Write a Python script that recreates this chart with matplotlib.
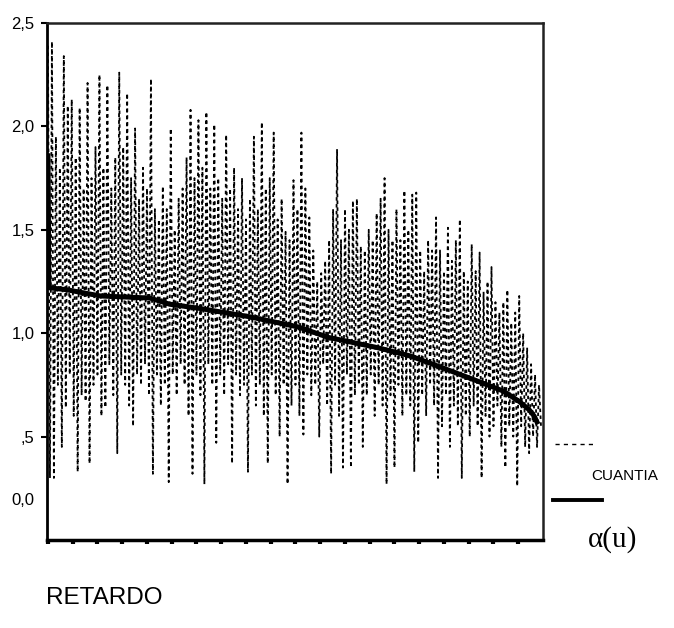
import numpy as np
import matplotlib
matplotlib.use("Agg")
import matplotlib.pyplot as plt
from matplotlib.lines import Line2D

# ---- data ----
# CUANTIA: alternating local maxima / minima of the lag series
peak_lags = np.arange(1, 500, 4)
peak_vals = [
    2.39, 2.41, 1.95, 1.80, 2.34, 2.10, 2.13, 1.85, 2.09, 1.70,
    2.21, 1.75, 1.90, 2.25, 1.80, 2.20, 1.70, 1.85, 2.26, 1.90,
    2.16, 1.75, 1.99, 1.65, 1.80, 1.70, 2.23, 1.60, 1.55, 1.71,
    1.60, 1.99, 1.50, 1.65, 1.70, 1.85, 2.08, 1.75, 2.03, 1.80,
    2.07, 1.70, 2.01, 1.75, 1.65, 1.96, 1.70, 1.80, 1.60, 1.75,
    1.55, 1.65, 1.95, 1.60, 2.02, 1.70, 1.75, 1.97, 1.55, 1.65,
    1.49, 1.45, 1.74, 1.60, 1.97, 1.70, 1.56, 1.40, 1.25, 1.29,
    1.35, 1.45, 1.60, 1.89, 1.45, 1.60, 1.50, 1.64, 1.65, 1.42,
    1.40, 1.50, 1.45, 1.58, 1.65, 1.75, 1.50, 1.45, 1.60, 1.45,
    1.69, 1.50, 1.67, 1.68, 1.40, 1.30, 1.45, 1.40, 1.56, 1.40,
    1.30, 1.51, 1.35, 1.45, 1.55, 1.30, 1.25, 1.43, 1.30, 1.39,
    1.20, 1.25, 1.32, 1.15, 1.10, 1.15, 1.21, 1.05, 1.10, 1.18,
    1.00, 0.93, 0.85, 0.80, 0.75,
]
trough_lags = np.arange(3, 502, 4)
trough_vals = [
    0.30, 0.30, 0.75, 0.45, 0.64, 0.80, 0.60, 0.33, 0.70, 0.67,
    0.37, 0.75, 0.80, 0.60, 0.64, 0.85, 0.70, 0.42, 0.80, 0.75,
    0.65, 0.55, 0.80, 0.75, 0.85, 0.70, 0.32, 0.80, 0.65, 0.75,
    0.28, 0.80, 0.70, 0.85, 0.75, 0.60, 0.32, 0.80, 0.70, 0.27,
    0.85, 0.75, 0.47, 0.80, 0.70, 0.85, 0.37, 0.80, 0.70, 0.75,
    0.33, 0.80, 0.65, 0.75, 0.60, 0.37, 0.80, 0.70, 0.50, 0.75,
    0.27, 0.65, 0.75, 0.60, 0.51, 0.80, 0.70, 0.75, 0.50, 0.85,
    0.65, 0.32, 0.75, 0.60, 0.35, 0.80, 0.35, 0.70, 0.75, 0.45,
    0.70, 0.80, 0.60, 0.75, 0.65, 0.27, 0.70, 0.35, 0.75, 0.60,
    0.70, 0.65, 0.33, 0.47, 0.70, 0.60, 0.75, 0.65, 0.30, 0.55,
    0.70, 0.45, 0.65, 0.55, 0.30, 0.60, 0.50, 0.65, 0.55, 0.30,
    0.60, 0.50, 0.55, 0.65, 0.45, 0.35, 0.55, 0.50, 0.26, 0.55,
    0.45, 0.42, 0.50, 0.45, 0.55,
]

# alpha(u): smooth decreasing curve
alpha_lags = [1, 2, 20, 54, 104, 124, 154, 204, 254, 284, 334, 367, 401, 434, 461, 477, 487, 492, 496]
alpha_vals = [1.87, 1.22, 1.21, 1.18, 1.17, 1.14, 1.12, 1.08, 1.03, 0.98, 0.93, 0.89, 0.83, 0.77, 0.72, 0.67, 0.63, 0.60, 0.56]

ytick_vals = [0.5, 1.0, 1.5, 2.0, 2.5]
ytick_labels = [",5", "1,0", "1,5", "2,0", "2,5"]
zero_label = "0,0"
xtick_vals = np.arange(1, 480, 25)

# interleave the extrema into one series
cu_lags = np.empty(len(peak_lags) + len(trough_lags))
cu_vals = np.empty_like(cu_lags)
cu_lags[0::2] = peak_lags
cu_lags[1::2] = trough_lags
cu_vals[0::2] = peak_vals
cu_vals[1::2] = trough_vals

plt.rcParams['font.family'] = ['Liberation Sans', 'DejaVu Sans']

fig = plt.figure(figsize=(6.74, 6.28), dpi=100)
ax = fig.add_axes([0.0697, 0.1401, 0.7359, 0.8233])

ax.plot(cu_lags, cu_vals, color='black', lw=1.3, dashes=(1.9, 1.9))
ax.plot(alpha_lags, alpha_vals, color='black', lw=3.6, solid_capstyle='butt')

ax.set_xlim(0, 501)
ax.set_ylim(0, 2.5)

ax.set_yticks(ytick_vals)
ax.set_yticklabels(ytick_labels)
ax.tick_params(axis='y', direction='out', length=4, width=1.5, labelsize=12, pad=5)
ax.text(-0.026, 0.19 / 2.5, zero_label, transform=ax.transAxes, ha='right', va='center', fontsize=12)

ax.set_xticks(xtick_vals)
ax.set_xticklabels([])
ax.tick_params(axis='x', direction='out', length=3, width=3)

for s in ['left', 'bottom']:
    ax.spines[s].set_linewidth(2.0)
ax.spines['bottom'].set_linewidth(2.5)
for s in ['top', 'right']:
    ax.spines[s].set_linewidth(1.8)
    ax.spines[s].set_color('#222222')

# legend drawn by hand (handle above label)
fig.add_artist(Line2D([555/674, 596/674], [1-444/628, 1-444/628], color='black', lw=1.0, dashes=(3, 3)))
fig.text(591/674, 1-476/628, "CUANTIA", fontsize=11, ha='left', va='center')
fig.add_artist(Line2D([553/674, 602/674], [1-500/628, 1-500/628], color='black', lw=2.8))
fig.text(588/674, 1-540/628, "α(u)", fontsize=21, ha='left', va='center', family=['Liberation Serif', 'DejaVu Serif'])

fig.text(46/674, 1-598/628, "RETARDO", fontsize=17.5, ha='left', va='center')

fig.savefig("out.png", dpi=100)
